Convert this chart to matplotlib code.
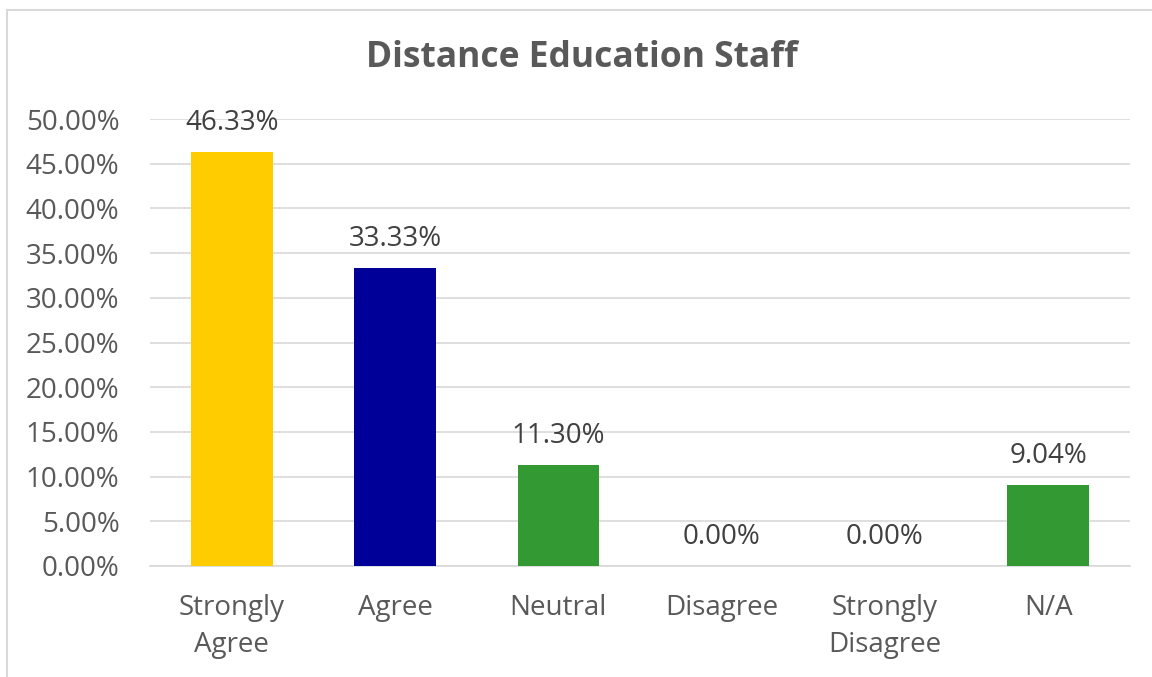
import matplotlib
matplotlib.use("Agg")
import matplotlib.pyplot as plt
from matplotlib.patches import Rectangle
from matplotlib.ticker import FuncFormatter, MultipleLocator

categories = ["Strongly\nAgree", "Agree", "Neutral", "Disagree", "Strongly\nDisagree", "N/A"]
values = [46.33, 33.33, 11.30, 0.00, 0.00, 9.04]
colors = ["#FFCC00", "#000099", "#339933", "#339933", "#339933", "#339933"]
title = "Distance Education Staff"

plt.rcParams['font.family'] = ['Open Sans', 'DejaVu Sans']
text_color = "#595959"

fig = plt.figure(figsize=(11.52, 6.77), dpi=100)
fig.patches.append(Rectangle((7/1152, -0.1), 1.2, 1 - 10/677 + 0.1, transform=fig.transFigure,
                             fill=False, edgecolor="#D9D9D9", linewidth=1.5))

ax = fig.add_axes([150/1152, (677-566)/677, (1130-150)/1152, (566-119)/677])
x = range(len(categories))
ax.bar(x, values, width=0.5, color=colors, zorder=3)
ax.set_ylim(0, 50)
ax.set_xlim(-0.5, len(categories) - 0.5)
ax.yaxis.set_major_locator(MultipleLocator(5))
ax.yaxis.set_major_formatter(FuncFormatter(lambda v, p: f"{v:.2f}%"))
ax.grid(axis='y', color="#D9D9D9", linewidth=1.2, zorder=0)
for s in ax.spines.values():
    s.set_visible(False)
ax.spines['bottom'].set_visible(True)
ax.spines['bottom'].set_color("#D9D9D9")
ax.spines['bottom'].set_linewidth(1.2)
ax.tick_params(axis='both', length=0, labelsize=20, colors=text_color)
ax.tick_params(axis='y', pad=22)
ax.tick_params(axis='x', pad=20)
ax.set_xticks(list(x))
ax.set_xticklabels(categories, linespacing=1.42)

for i, v in enumerate(values):
    ax.annotate(f"{v:.2f}%", (i, v), xytext=(0, 11), textcoords="offset points",
                ha='center', va='bottom', fontsize=20, color="#404040")

fig.text(582/1152, 1 - 58/677, title, ha='center', va='center', fontsize=25.5,
         fontweight='bold', color=text_color)

fig.savefig("out.png", dpi=100)
